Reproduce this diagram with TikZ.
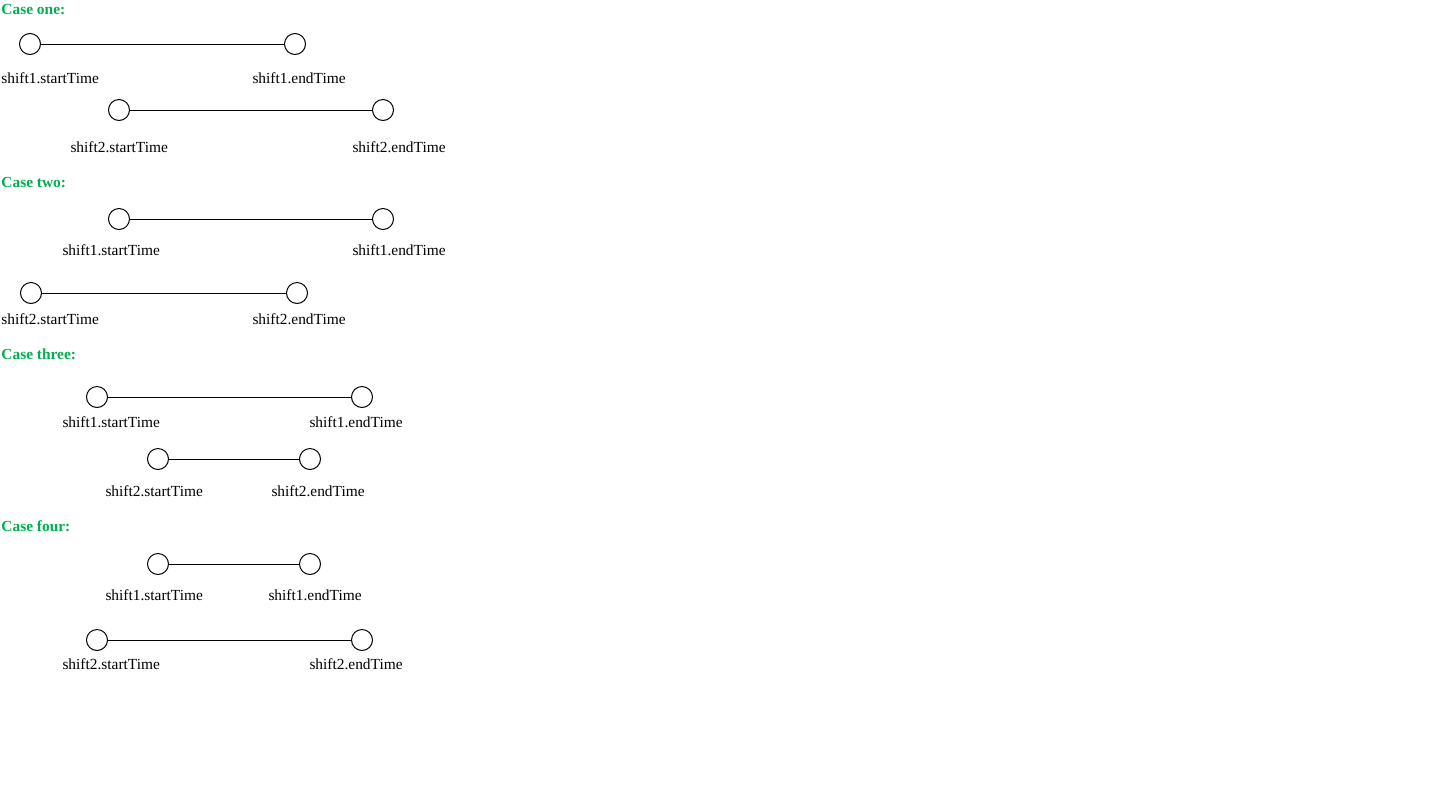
\documentclass[tikz,border=0pt]{standalone}
\usepackage{fontspec}
\setmainfont{Liberation Serif}
\definecolor{casegreen}{RGB}{0,176,80}
\begin{document}
\begin{tikzpicture}[x=1pt,y=-1pt,line width=1pt,
        pt/.style={draw,circle,minimum size=21pt,inner sep=0pt},
        lbl/.style={anchor=base west,inner sep=0pt,font=\fontsize{15.4}{18}\selectfont},
        ttl/.style={anchor=base west,inner sep=0pt,text=casegreen,font=\fontsize{15.4}{18}\selectfont\bfseries}]
        \useasboundingbox (0,0) rectangle (1438,796);

        % case one
        \node[ttl] (t1) at (1,14) {Case one:};
        \node[pt] (1s) at (30,44) {};
        \node[pt] (1e) at (295,44) {};
        \node[lbl] (1sl) at (1,83) {shift1.startTime};
        \node[lbl] (1el) at (252,83) {shift1.endTime};
        \node[pt] (2s) at (119,110) {};
        \node[pt] (2e) at (383,110) {};
        \node[lbl] (2sl) at (70,152) {shift2.startTime};
        \node[lbl] (2el) at (352,152) {shift2.endTime};
        \path[draw] (1s) -- (1e);
        \path[draw] (2s) -- (2e);

        % case two
        \node[ttl] (t2) at (1,187) {Case two:};
        \node[pt] (3s) at (119,219) {};
        \node[pt] (3e) at (383,219) {};
        \node[lbl] (3sl) at (62,255) {shift1.startTime};
        \node[lbl] (3el) at (352,255) {shift1.endTime};
        \node[pt] (4s) at (31,293) {};
        \node[pt] (4e) at (297,293) {};
        \node[lbl] (4sl) at (1,324) {shift2.startTime};
        \node[lbl] (4el) at (252,324) {shift2.endTime};
        \path[draw] (3s) -- (3e);
        \path[draw] (4s) -- (4e);

        % case three
        \node[ttl] (t3) at (1,359) {Case three:};
        \node[pt] (5s) at (97,397) {};
        \node[pt] (5e) at (362,397) {};
        \node[lbl] (5sl) at (62,427) {shift1.startTime};
        \node[lbl] (5el) at (309,427) {shift1.endTime};
        \node[pt] (6s) at (158,459) {};
        \node[pt] (6e) at (310,459) {};
        \node[lbl] (6sl) at (105,496) {shift2.startTime};
        \node[lbl] (6el) at (271,496) {shift2.endTime};
        \path[draw] (5s) -- (5e);
        \path[draw] (6s) -- (6e);

        % case four
        \node[ttl] (t4) at (1,531) {Case four:};
        \node[pt] (7s) at (158,564) {};
        \node[pt] (7e) at (310,564) {};
        \node[lbl] (7sl) at (105,600) {shift1.startTime};
        \node[lbl] (7el) at (268,600) {shift1.endTime};
        \node[pt] (8s) at (97,640) {};
        \node[pt] (8e) at (362,640) {};
        \node[lbl] (8sl) at (62,669) {shift2.startTime};
        \node[lbl] (8el) at (309,669) {shift2.endTime};
        \path[draw] (7s) -- (7e);
        \path[draw] (8s) -- (8e);
    \end{tikzpicture}
\end{document}
